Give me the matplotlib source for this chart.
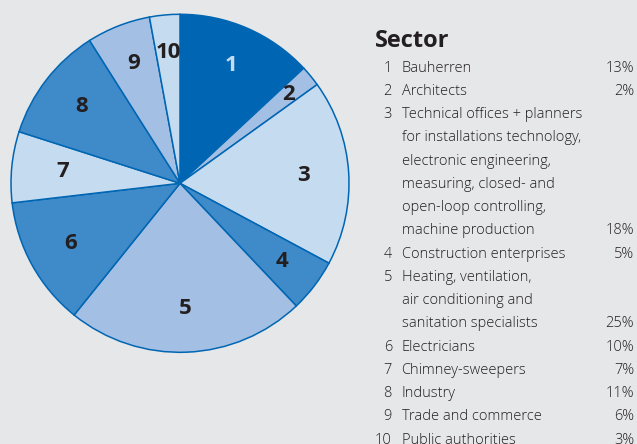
import matplotlib
matplotlib.use("Agg")
import matplotlib.pyplot as plt
import numpy as np

# ---- data ----
slice_ids = ["1", "2", "3", "4", "5", "6", "7", "8", "9", "10"]
# slice sizes as drawn in the picture (percent)
slice_values = [13.1, 2.0, 17.8, 5.1, 22.9, 12.4, 6.8, 11.1, 6.1, 2.9]
sector_names = [
    "Bauherren",
    "Architects",
    "Technical offices + planners\nfor installations technology,\nelectronic engineering,\nmeasuring, closed- and\nopen-loop controlling,\nmachine production",
    "Construction enterprises",
    "Heating, ventilation,\nair conditioning and\nsanitation specialists",
    "Electricians",
    "Chimney-sweepers",
    "Industry",
    "Trade and commerce",
    "Public authorities",
]
pct_labels = ["13%", "2%", "18%", "5%", "25%", "10%", "7%", "11%", "6%", "3%"]
legend_title = "Sector"

# ---- style ----
BG = "#e6e7e9"
DARK = "#0066b3"
MED = "#3f8ac8"
LIGHT = "#a3bfe3"
PALE = "#c5dbf0"
colors = [DARK, LIGHT, PALE, MED, LIGHT, MED, PALE, MED, LIGHT, PALE]
label_colors = [PALE] + ["#231f20"] * 9
label_r = [0.76, 0.83, 0.73, 0.76, 0.74, 0.74, 0.70, 0.74, 0.76, 0.78]

plt.rcParams['font.family'] = ['Open Sans', 'DejaVu Sans']

W, H = 637, 444
fig = plt.figure(figsize=(W / 100, H / 100), dpi=100)
fig.patch.set_facecolor(BG)

cx, cy, R = 180, 183.3, 169
ax = fig.add_axes([(cx - R) / W, (H - cy - R) / H, 2 * R / W, 2 * R / H])
ax.set_facecolor(BG)
wedges, _ = ax.pie(slice_values, colors=colors, startangle=90, counterclock=False,
                   radius=1, wedgeprops=dict(edgecolor=DARK, linewidth=1.1))
for w, lab, col, r in zip(wedges, slice_ids, label_colors, label_r):
    ang = np.deg2rad((w.theta1 + w.theta2) / 2)
    ax.text(r * np.cos(ang), r * np.sin(ang), lab, ha="center", va="center",
            fontsize=16, fontweight="bold", color=col)
ax.set_xlim(-1, 1)
ax.set_ylim(-1, 1)
ax.set_aspect("equal")
ax.axis("off")

# ---- legend text ----
txt = "#231f20"
fw = "light"
fig.text(375 / W, 1 - 46.7 / H, legend_title, fontsize=17, fontweight="bold",
         color=txt, ha="left", va="baseline")
line_h = 23.25
y0 = 71.7
row = 0
for sid, name, pct in zip(slice_ids, sector_names, pct_labels):
    lines = name.split("\n")
    yb = y0 + row * line_h
    fig.text(392 / W, 1 - yb / H, sid, fontsize=10.5, color=txt, ha="right",
             va="baseline", fontweight=fw)
    for k, ln in enumerate(lines):
        fig.text(401.5 / W, 1 - (yb + k * line_h) / H, ln, fontsize=10.5, color=txt,
                 ha="left", va="baseline", fontweight=fw)
    fig.text(634 / W, 1 - (yb + (len(lines) - 1) * line_h) / H, pct, fontsize=10.5,
             color=txt, ha="right", va="baseline", fontweight=fw)
    row += len(lines)

fig.savefig("out.png", dpi=100, facecolor=BG)
